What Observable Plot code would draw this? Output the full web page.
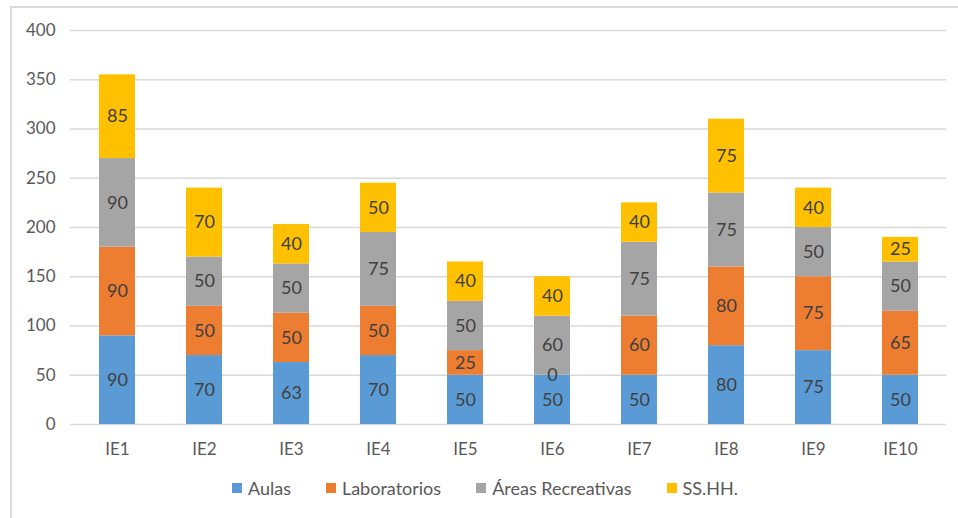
<!DOCTYPE html>
<html>
<head>
<meta charset="utf-8">
<script src="https://cdn.jsdelivr.net/npm/d3@7"></script>
<script src="https://cdn.jsdelivr.net/npm/@observablehq/plot@0.6"></script>
<style>
  html, body { margin: 0; padding: 0; background: #fff; }
  #wrap { position: relative; width: 958px; height: 518px; overflow: hidden; }
  #frame { position: absolute; left: 10px; top: 6px; width: 960px; height: 530px;
           border-left: 2px solid #d9d9d9; border-top: 2px solid #d9d9d9; box-sizing: border-box; }
  #chart { position: absolute; left: 0; top: 0; }
  #legend { position: absolute; left: 0; top: 477px; width: 958px; display: flex; justify-content: center;
            gap: 35px; font-family: Lato, "Open Sans", sans-serif; font-size: 18px; color: #595959; padding-left: 12px; box-sizing: border-box; }
  #legend .item { display: flex; align-items: center; gap: 6px; }
  #legend .sw { width: 10px; height: 10px; display: inline-block; }
</style>
</head>
<body>
<div id="wrap">
  <div id="frame"></div>
  <div id="chart"></div>
  <div id="legend"></div>
</div>
<script>
const categories = ["IE1","IE2","IE3","IE4","IE5","IE6","IE7","IE8","IE9","IE10"];
const series = ["Aulas","Laboratorios","Áreas Recreativas","SS.HH."];
const aulas        = [90, 70, 63, 70, 50, 50, 50, 80, 75, 50];
const laboratorios = [90, 50, 50, 50, 25,  0, 60, 80, 75, 65];
const areas        = [90, 50, 50, 75, 50, 60, 75, 75, 50, 50];
const sshh         = [85, 70, 40, 50, 40, 40, 40, 75, 40, 25];
const yTicks = [0, 50, 100, 150, 200, 250, 300, 350, 400];
const colors = ["#5B9BD5", "#ED7D31", "#A5A5A5", "#FFC000"];

const valuesBySeries = [aulas, laboratorios, areas, sshh];
const data = [];
series.forEach((s, si) => {
  categories.forEach((c, ci) => data.push({ cat: c, series: s, value: valuesBySeries[si][ci] }));
});

const font = "Lato, 'Open Sans', sans-serif";
const chart = Plot.plot({
  width: 958,
  height: 470,
  marginLeft: 70,
  marginRight: 12,
  marginTop: 30,
  marginBottom: 46,
  style: { fontFamily: font, fontSize: "17px", color: "#595959", background: "transparent" },
  x: { domain: categories, paddingInner: 0.59, paddingOuter: 0.295, label: null, tickSize: 0, tickPadding: 19 },
  y: { domain: [0, 400], ticks: yTicks, label: null, tickSize: 0, tickPadding: 15 },
  color: { domain: series, range: colors },
  marks: [
    Plot.gridY(yTicks, { stroke: "#d9d9d9", strokeOpacity: 1, strokeWidth: 1.3 }),
    Plot.barY(data, { x: "cat", y: "value", z: "series", fill: "series", order: series }),
    Plot.text(data, Plot.stackY({ x: "cat", y: "value", z: "series", order: series, text: d => String(d.value),
      fill: "#404040", fontSize: 18 })),
    Plot.axisX({ tickSize: 0, tickPadding: 18, fontSize: 17 }),
    Plot.axisY({ ticks: yTicks, tickSize: 0, tickPadding: 15, fontSize: 17 })
  ]
});
document.getElementById("chart").appendChild(chart);

const legend = document.getElementById("legend");
series.forEach((s, i) => {
  const item = document.createElement("div");
  item.className = "item";
  const sw = document.createElement("span");
  sw.className = "sw";
  sw.style.background = colors[i];
  const label = document.createElement("span");
  label.textContent = s;
  item.appendChild(sw);
  item.appendChild(label);
  legend.appendChild(item);
});
</script>
</body>
</html>
